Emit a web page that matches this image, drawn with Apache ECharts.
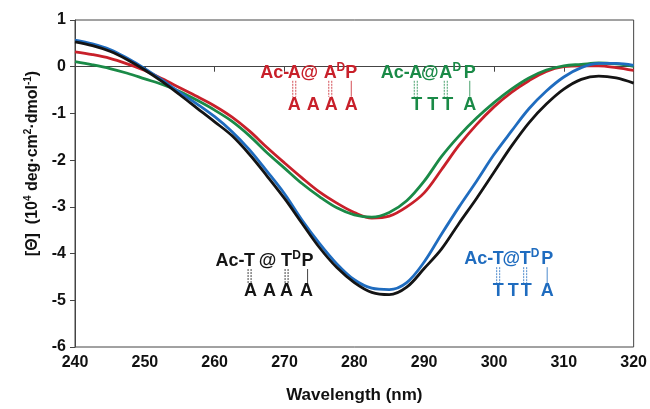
<!DOCTYPE html>
<html>
<head>
<meta charset="utf-8">
<script src="https://cdn.jsdelivr.net/npm/echarts@6/dist/echarts.min.js"></script>
<style>
  html, body { margin: 0; padding: 0; background: #fff; }
  #chart { width: 650px; height: 409px; }
</style>
</head>
<body>
<div id="chart"></div>
<script>
// wavelength (nm), sampled every 2.5 nm
const wavelength = [240, 242.5, 245, 247.5, 250, 252.5, 255, 257.5, 260, 262.5, 265, 267.5, 270, 272.5, 275, 277.5,
  280, 282.5, 285, 287.5, 290, 292.5, 295, 297.5, 300, 302.5, 305, 307.5, 310, 312.5, 315, 317.5, 320]

// molar ellipticity, 10^4 deg cm2 dmol-1
const ttaaaa = [0.53, 0.45, 0.33, 0.15, -0.07, -0.32, -0.60, -0.89, -1.18, -1.48, -1.88, -2.34, -2.82, -3.35, -3.87, -4.30,
  -4.62, -4.83, -4.88, -4.72, -4.32, -3.90, -3.35, -2.82, -2.26, -1.70, -1.20, -0.80, -0.48, -0.27, -0.20, -0.24, -0.35]
const tttta = [0.57, 0.49, 0.37, 0.18, -0.04, -0.29, -0.55, -0.80, -1.07, -1.39, -1.78, -2.24, -2.72, -3.28, -3.78, -4.22,
  -4.56, -4.74, -4.77, -4.62, -4.18, -3.58, -3.00, -2.45, -1.88, -1.38, -0.90, -0.52, -0.22, -0.02, 0.07, 0.07, 0.03]
const aaaaaa = [0.32, 0.26, 0.18, 0.06, -0.08, -0.26, -0.45, -0.64, -0.84, -1.08, -1.38, -1.73, -2.06, -2.38, -2.68, -2.92,
  -3.12, -3.24, -3.20, -3.00, -2.70, -2.20, -1.68, -1.24, -0.86, -0.55, -0.30, -0.10, 0.00, 0.02, 0.02, -0.02, -0.08]
const aatta = [0.11, 0.04, -0.04, -0.14, -0.26, -0.38, -0.53, -0.72, -0.93, -1.17, -1.48, -1.84, -2.17, -2.50, -2.78, -3.02,
  -3.17, -3.22, -3.12, -2.87, -2.45, -1.92, -1.48, -1.10, -0.77, -0.48, -0.24, -0.07, 0.02, 0.05, 0.08, 0.06, 0.01]

const FONT = '"Liberation Sans", Arial, Helvetica, sans-serif'
const colors = { black: '#141414', blue: '#1f6cbf', red: '#c8202a', green: '#1a8a47' }

// duplex labels: top strand, bottom strand, which letters pair up
const labels = [
  { color: colors.red, at: [271.4, -0.13], dy: 32,
    top: [['Ac-', -5, 'right'], ['A', 0], ['@', 15], ['A', 36], ['D', 46.5, 'sup'], ['P', 57]],
    bottom: [['A', 0], ['A', 19], ['A', 37], ['A', 57]],
    links: [[0, 2], [36, 2], [57, 1]] },
  { color: colors.green, at: [288.8, -0.13], dy: 32,
    top: [['Ac-', -6, 'right'], ['A', 0], ['@', 14], ['A', 30], ['D', 41, 'sup'], ['P', 54]],
    bottom: [['T', 1], ['T', 17], ['T', 32], ['A', 54]],
    links: [[0, 2], [30, 2], [54, 1]] },
  { color: colors.black, at: [265.0, -4.16], dy: 30,
    top: [['Ac-', -5, 'right'], ['T', 0], ['@', 18], ['T', 37], ['D', 47, 'sup'], ['P', 58]],
    bottom: [['A', 1], ['A', 20], ['A', 37], ['A', 57]],
    links: [[0, 2], [37, 2], [58, 1]] },
  { color: colors.blue, at: [300.6, -4.12], dy: 32,
    top: [['Ac-', -5, 'right'], ['T', 0], ['@', 13], ['T', 27], ['D', 37, 'sup'], ['P', 49]],
    bottom: [['T', 0], ['T', 15], ['T', 28], ['A', 49]],
    links: [[0, 2], [27, 2], [49, 1]] }
]

const chart = echarts.init(document.getElementById('chart'), null, { renderer: 'canvas' })

const pairs = ys => wavelength.map((x, i) => [x, ys[i]])

const lineSeries = (name, ys, color) => ({
  name,
  type: 'line',
  data: pairs(ys),
  smooth: 0.35,
  symbol: 'none',
  lineStyle: { color, width: 2.8 }
})

const axisCommon = {
  axisLine: { show: true, lineStyle: { color: '#444', width: 1 } },
  axisTick: { show: true, inside: false, length: 5, lineStyle: { color: '#444' } },
  splitLine: { show: false },
  axisLabel: { color: '#111', fontSize: 16, fontWeight: 'bold', fontFamily: FONT }
}

chart.setOption({
  animation: false,
  backgroundColor: '#fff',
  grid: { left: 75, right: 14, top: 20, bottom: 60, show: true, borderColor: '#444', borderWidth: 1 },
  xAxis: {
    ...axisCommon,
    type: 'value',
    min: 240,
    max: 320,
    interval: 10,
    axisLabel: { ...axisCommon.axisLabel, margin: 8 },
    name: 'Wavelength (nm)',
    nameLocation: 'middle',
    nameGap: 40,
    nameTextStyle: { color: '#111', fontSize: 17, fontWeight: 'bold', fontFamily: FONT }
  },
  yAxis: {
    ...axisCommon,
    type: 'value',
    min: -6,
    max: 1,
    interval: 1,
    axisLabel: { ...axisCommon.axisLabel, margin: 9 },
    name: '{b|[Θ]  (10}{s|4}{b| deg·cm}{s|2}{b|·dmol}{s|-1}{b|)}',
    nameLocation: 'middle',
    nameGap: 28,
    nameTextStyle: {
      padding: [0, 0, 0, 40],
      rich: {
        b: { color: '#111', fontSize: 16, fontWeight: 'bold', fontFamily: FONT, lineHeight: 19 },
        s: { color: '#111', fontSize: 10, fontWeight: 'bold', fontFamily: FONT, lineHeight: 19, verticalAlign: 'top', padding: [0, 0, 6, 0] }
      }
    }
  },
  series: [
    lineSeries('Ac-A@ADP / AAAA', aaaaaa, colors.red),
    lineSeries('Ac-A@ADP / TTTA', aatta, colors.green),
    lineSeries('Ac-T@TDP / TTTA', tttta, colors.blue),
    lineSeries('Ac-T@TDP / AAAA', ttaaaa, colors.black)
  ]
})

// Annotation labels, placed after the grid is laid out
const elements = []
labels.forEach(lb => {
  const [ax, ay] = chart.convertToPixel({ gridIndex: 0 }, lb.at)
  const txt = (text, x, y, size, align) => ({
    type: 'text',
    x, y,
    style: {
      text, fill: lb.color, font: 'bold ' + size + 'px ' + FONT,
      align: align || 'center', textAlign: align || 'center',
      verticalAlign: 'middle', textVerticalAlign: 'middle'
    },
    z: 10
  })
  lb.top.forEach(([t, dx, kind]) => {
    if (kind === 'sup') elements.push(txt(t, ax + dx, ay - 5, 12))
    else elements.push(txt(t, ax + dx, ay, 18, kind))
  })
  lb.bottom.forEach(([t, dx]) => elements.push(txt(t, ax + dx, ay + lb.dy, 18)))
  lb.links.forEach(([dx, n]) => {
    const offs = n === 2 ? [-1.5, 1.5] : [0]
    offs.forEach(o => elements.push({
      type: 'line',
      shape: { x1: ax + dx + o, y1: ay + 8, x2: ax + dx + o, y2: ay + lb.dy - 8 },
      style: { stroke: lb.color, lineWidth: 1, lineDash: n === 2 ? [2, 1] : null, opacity: 0.8 },
      z: 10
    }))
  })
})
chart.setOption({ graphic: { elements } })
</script>
</body>
</html>
